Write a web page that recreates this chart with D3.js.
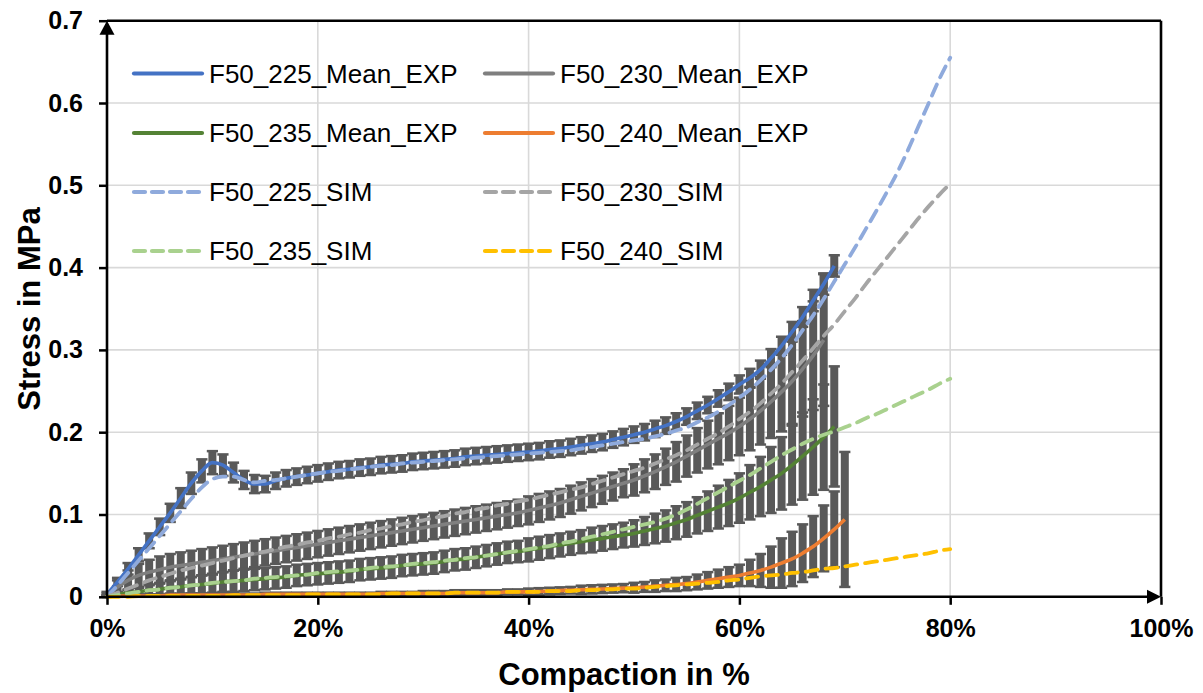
<!DOCTYPE html>
<html>
<head>
<meta charset="utf-8">
<script src="https://cdn.jsdelivr.net/npm/d3@7"></script>
<style>
  html, body { margin: 0; padding: 0; background: #fff; }
  svg { display: block; font-family: "Liberation Sans", Arial, sans-serif; }
</style>
</head>
<body>
<svg id="chart" width="1203" height="693"></svg>
<script>
// ── Data (stress in MPa, one value per 1 % compaction, index = %) ──────────
const exp225 = [0.003,0.018,0.034,0.051,0.068,0.085,0.102,0.120,0.138,0.153,
  0.163,0.160,0.151,0.142,0.137,0.137,0.141,0.144,0.146,0.148,
  0.150,0.152,0.154,0.155,0.157,0.158,0.160,0.161,0.162,0.164,
  0.165,0.166,0.167,0.168,0.170,0.171,0.172,0.173,0.174,0.175,
  0.176,0.177,0.179,0.180,0.182,0.184,0.186,0.188,0.191,0.194,
  0.197,0.200,0.204,0.208,0.213,0.219,0.226,0.233,0.241,0.249,
  0.258,0.266,0.276,0.290,0.305,0.322,0.340,0.360,0.380,0.402];
const err225 = [0.003,0.005,0.007,0.008,0.009,0.010,0.011,0.012,0.013,0.014,
  0.014,0.013,0.012,0.011,0.011,0.010,0.010,0.010,0.010,0.010,
  0.010,0.010,0.010,0.010,0.010,0.010,0.010,0.010,0.010,0.010,
  0.010,0.010,0.010,0.010,0.010,0.010,0.010,0.010,0.010,0.010,
  0.010,0.010,0.010,0.010,0.010,0.010,0.010,0.010,0.010,0.010,
  0.010,0.010,0.010,0.010,0.010,0.010,0.010,0.010,0.010,0.010,
  0.011,0.011,0.011,0.011,0.011,0.012,0.012,0.013,0.013,0.013];

const exp230 = [0.002,0.012,0.020,0.026,0.030,0.033,0.036,0.038,0.040,0.042,
  0.044,0.046,0.048,0.050,0.052,0.054,0.056,0.058,0.060,0.062,
  0.064,0.066,0.068,0.070,0.072,0.074,0.076,0.078,0.080,0.082,
  0.084,0.086,0.088,0.090,0.092,0.094,0.096,0.098,0.100,0.102,
  0.105,0.108,0.111,0.114,0.118,0.122,0.126,0.130,0.134,0.138,
  0.142,0.147,0.152,0.158,0.164,0.171,0.178,0.185,0.192,0.199,
  0.207,0.216,0.226,0.237,0.249,0.262,0.277,0.293,0.312];
const err230 = [0.002,0.008,0.012,0.014,0.015,0.016,0.016,0.016,0.016,0.016,
  0.016,0.016,0.016,0.016,0.016,0.016,0.016,0.016,0.016,0.016,
  0.016,0.016,0.016,0.016,0.016,0.016,0.016,0.016,0.016,0.016,
  0.016,0.016,0.016,0.016,0.016,0.016,0.016,0.016,0.016,0.016,
  0.017,0.017,0.017,0.017,0.017,0.017,0.017,0.017,0.017,0.017,
  0.019,0.020,0.021,0.022,0.024,0.025,0.027,0.029,0.031,0.033,
  0.035,0.038,0.041,0.044,0.048,0.052,0.058,0.066,0.080];

const exp235 = [0.001,0.003,0.005,0.006,0.008,0.009,0.011,0.012,0.014,0.015,
  0.016,0.018,0.019,0.020,0.021,0.022,0.023,0.024,0.026,0.027,
  0.028,0.029,0.030,0.031,0.033,0.034,0.035,0.036,0.038,0.039,
  0.040,0.041,0.043,0.045,0.046,0.048,0.050,0.052,0.054,0.055,
  0.057,0.059,0.061,0.063,0.065,0.067,0.069,0.071,0.073,0.075,
  0.077,0.080,0.083,0.086,0.090,0.094,0.099,0.104,0.109,0.114,
  0.120,0.127,0.134,0.142,0.150,0.160,0.171,0.182,0.194,0.207];
const err235 = [0.001,0.003,0.004,0.005,0.006,0.007,0.008,0.009,0.010,0.011,
  0.011,0.012,0.013,0.013,0.013,0.013,0.013,0.013,0.013,0.013,
  0.013,0.013,0.013,0.013,0.013,0.013,0.013,0.013,0.013,0.013,
  0.013,0.013,0.013,0.013,0.013,0.013,0.013,0.013,0.013,0.013,
  0.014,0.014,0.014,0.014,0.014,0.014,0.015,0.015,0.015,0.015,
  0.016,0.017,0.018,0.019,0.020,0.021,0.022,0.024,0.026,0.028,
  0.030,0.033,0.036,0.040,0.044,0.048,0.053,0.058,0.064,0.073];

const exp240 = [0.000,0.001,0.001,0.001,0.001,0.001,0.002,0.002,0.002,0.002,
  0.002,0.002,0.002,0.002,0.002,0.003,0.003,0.003,0.003,0.003,
  0.003,0.003,0.003,0.003,0.003,0.003,0.004,0.004,0.004,0.004,
  0.004,0.004,0.004,0.005,0.005,0.005,0.005,0.005,0.006,0.006,
  0.006,0.0065,0.007,0.0075,0.008,0.0085,0.009,0.0095,0.010,0.0105,
  0.011,0.012,0.013,0.014,0.015,0.016,0.018,0.020,0.022,0.024,
  0.026,0.029,0.032,0.036,0.041,0.046,0.053,0.061,0.071,0.082,0.094];
const err240 = [0.002,0.002,0.002,0.002,0.002,0.002,0.002,0.002,0.002,0.002,
  0.002,0.002,0.002,0.002,0.002,0.002,0.002,0.002,0.002,0.002,
  0.002,0.002,0.002,0.002,0.002,0.002,0.002,0.002,0.002,0.002,
  0.003,0.003,0.003,0.003,0.003,0.003,0.003,0.003,0.003,0.003,
  0.004,0.004,0.004,0.004,0.004,0.005,0.005,0.005,0.005,0.005,
  0.006,0.006,0.007,0.007,0.008,0.008,0.009,0.010,0.011,0.012,
  0.013,0.016,0.020,0.025,0.030,0.033,0.035,0.037,0.040,0.046,0.082];

const sim225 = [0.000,0.014,0.029,0.044,0.059,0.074,0.089,0.104,0.119,0.133,
  0.143,0.146,0.146,0.142,0.139,0.141,0.142,0.144,0.146,0.148,
  0.150,0.152,0.153,0.155,0.156,0.158,0.159,0.160,0.162,0.163,
  0.164,0.165,0.166,0.167,0.168,0.169,0.170,0.171,0.172,0.173,
  0.174,0.175,0.176,0.177,0.178,0.180,0.182,0.184,0.186,0.188,
  0.190,0.192,0.195,0.198,0.202,0.206,0.212,0.218,0.225,0.233,
  0.242,0.252,0.263,0.276,0.290,0.306,0.324,0.342,0.362,0.383,
  0.404,0.425,0.447,0.469,0.492,0.516,0.543,0.572,0.601,0.630,0.655];
const sim230 = [0.000,0.005,0.010,0.015,0.020,0.024,0.028,0.032,0.035,0.038,
  0.041,0.044,0.047,0.050,0.053,0.055,0.058,0.061,0.063,0.066,
  0.068,0.071,0.073,0.076,0.078,0.081,0.083,0.086,0.088,0.091,
  0.093,0.096,0.098,0.101,0.103,0.106,0.108,0.111,0.113,0.116,
  0.118,0.121,0.124,0.127,0.130,0.133,0.137,0.141,0.145,0.149,
  0.153,0.157,0.162,0.167,0.172,0.178,0.185,0.192,0.199,0.207,
  0.216,0.225,0.235,0.247,0.259,0.273,0.287,0.302,0.317,0.331,
  0.347,0.363,0.380,0.396,0.412,0.428,0.444,0.460,0.475,0.489,0.502];
const sim235 = [0.000,0.002,0.004,0.006,0.008,0.009,0.011,0.012,0.014,0.015,
  0.017,0.018,0.019,0.020,0.022,0.023,0.024,0.025,0.026,0.027,
  0.029,0.030,0.031,0.032,0.033,0.035,0.036,0.037,0.038,0.040,
  0.041,0.042,0.044,0.045,0.047,0.048,0.050,0.052,0.054,0.056,
  0.058,0.060,0.062,0.065,0.067,0.070,0.073,0.076,0.079,0.082,
  0.085,0.088,0.091,0.095,0.100,0.106,0.113,0.120,0.127,0.134,
  0.141,0.148,0.156,0.164,0.172,0.179,0.186,0.192,0.197,0.201,
  0.206,0.211,0.217,0.222,0.228,0.234,0.240,0.246,0.252,0.259,0.265];
const sim240 = [0.000,0.000,0.000,0.001,0.001,0.001,0.001,0.001,0.001,0.001,
  0.001,0.001,0.002,0.002,0.002,0.002,0.002,0.002,0.002,0.003,
  0.003,0.003,0.003,0.003,0.003,0.003,0.003,0.004,0.004,0.004,
  0.004,0.004,0.004,0.005,0.005,0.005,0.005,0.005,0.006,0.006,
  0.006,0.006,0.007,0.007,0.007,0.008,0.008,0.009,0.009,0.010,
  0.010,0.011,0.012,0.013,0.014,0.015,0.016,0.017,0.018,0.020,
  0.021,0.023,0.025,0.026,0.027,0.029,0.030,0.032,0.034,0.035,
  0.037,0.039,0.041,0.043,0.045,0.047,0.049,0.051,0.053,0.056,0.058];

const xTicks = [0, 20, 40, 60, 80, 100];
const yTicks = [0, 0.1, 0.2, 0.3, 0.4, 0.5, 0.6, 0.7];

const expSeries = [
  { name: 'F50_225_Mean_EXP', values: exp225, err: err225, color: '#4472C4' },
  { name: 'F50_230_Mean_EXP', values: exp230, err: err230, color: '#7F7F7F' },
  { name: 'F50_235_Mean_EXP', values: exp235, err: err235, color: '#548235' },
  { name: 'F50_240_Mean_EXP', values: exp240, err: err240, color: '#ED7D31' }
];
const simSeries = [
  { name: 'F50_225_SIM', values: sim225, color: '#8FAADC' },
  { name: 'F50_230_SIM', values: sim230, color: '#A5A5A5' },
  { name: 'F50_235_SIM', values: sim235, color: '#A9D18E' },
  { name: 'F50_240_SIM', values: sim240, color: '#FFC000' }
];

// ── Layout ─────────────────────────────────────────────────────────────────
const plotL = 107, plotR = 1161, plotT = 20.7, plotB = 596.8;
const DASH = '12,8';

const svg = d3.select('#chart');
const x = d3.scaleLinear().domain([0, 100]).range([plotL, plotR]);
const y = d3.scaleLinear().domain([0, 0.7]).range([plotB, plotT]);

// ── Grid ───────────────────────────────────────────────────────────────────
const grid = svg.append('g').attr('stroke', '#D9D9D9').attr('stroke-width', 1.6);
grid.selectAll('.gx').data(xTicks.slice(1)).enter().append('line')
  .attr('x1', d => x(d)).attr('x2', d => x(d)).attr('y1', plotT).attr('y2', plotB);
grid.selectAll('.gy').data(yTicks.slice(1)).enter().append('line')
  .attr('x1', plotL).attr('x2', plotR).attr('y1', d => y(d)).attr('y2', d => y(d));

// ── Error bars (thick stems so the bands read dark like the original) ─────
const CAP = 5.6;
const errG = svg.append('g').attr('stroke', '#595959');
expSeries.forEach(s => {
  const g = errG.append('g');
  s.values.forEach((v, i) => {
    const e = s.err[i];
    const cx = x(i), y1 = y(v + e), y2 = y(Math.max(0, v - e));
    g.append('line').attr('x1', cx).attr('x2', cx).attr('y1', y1).attr('y2', y2)
      .attr('stroke-width', 8);
    g.append('line').attr('x1', cx - CAP).attr('x2', cx + CAP).attr('y1', y1).attr('y2', y1)
      .attr('stroke-width', 2.5);
    g.append('line').attr('x1', cx - CAP).attr('x2', cx + CAP).attr('y1', y2).attr('y2', y2)
      .attr('stroke-width', 2.5);
  });
});

// ── Lines ──────────────────────────────────────────────────────────────────
const line = d3.line()
  .x((d, i) => x(i))
  .y(d => y(d))
  .curve(d3.curveMonotoneX);

svg.append('g').selectAll('path').data(expSeries).enter().append('path')
  .attr('d', d => line(d.values))
  .attr('fill', 'none')
  .attr('stroke', d => d.color)
  .attr('stroke-width', 3.6)
  .attr('stroke-linejoin', 'round');

svg.append('g').selectAll('path').data(simSeries).enter().append('path')
  .attr('d', d => line(d.values))
  .attr('fill', 'none')
  .attr('stroke', d => d.color)
  .attr('stroke-width', 3.8)
  .attr('stroke-linecap', 'round')
  .attr('stroke-dasharray', DASH);

// ── Axes ───────────────────────────────────────────────────────────────────
const xAxis = svg.append('g')
  .attr('transform', `translate(0,${plotB})`)
  .call(d3.axisBottom(x).tickValues(xTicks).tickFormat(d => d + '%').tickSize(8).tickPadding(14));
const yAxis = svg.append('g')
  .attr('transform', `translate(${plotL},0)`)
  .call(d3.axisLeft(y).tickValues(yTicks).tickFormat(d => d === 0 ? '0' : d.toFixed(1)).tickSize(8).tickPadding(16));

[xAxis, yAxis].forEach(a => {
  a.select('.domain').remove();
  a.selectAll('.tick line').attr('stroke', '#000').attr('stroke-width', 2.5);
  a.selectAll('.tick text')
    .attr('fill', '#000')
    .style('font-family', '"Liberation Sans", Arial, sans-serif')
    .style('font-size', '25px')
    .style('font-weight', 'bold');
});

// frame + arrowed axes
const frame = svg.append('g').attr('stroke', '#000').attr('stroke-width', 2.6).attr('fill', 'none');
frame.append('line').attr('x1', plotL).attr('x2', plotR).attr('y1', plotT).attr('y2', plotT);
frame.append('line').attr('x1', plotR).attr('x2', plotR).attr('y1', plotT).attr('y2', plotB);
frame.append('line').attr('x1', plotL).attr('x2', plotR - 10).attr('y1', plotB).attr('y2', plotB);
frame.append('line').attr('x1', plotL).attr('x2', plotL).attr('y1', plotB).attr('y2', plotT + 10);
svg.append('path')
  .attr('d', `M${plotL},${plotT}L${plotL - 7.5},${plotT + 14}L${plotL + 7.5},${plotT + 14}Z`)
  .attr('fill', '#000');
svg.append('path')
  .attr('d', `M${plotR},${plotB}L${plotR - 14},${plotB - 7}L${plotR - 14},${plotB + 7}Z`)
  .attr('fill', '#000');

// ── Axis titles ────────────────────────────────────────────────────────────
svg.append('text')
  .attr('x', 624).attr('y', 685)
  .attr('text-anchor', 'middle')
  .style('font-size', '31px').style('font-weight', 'bold')
  .text('Compaction in %');
svg.append('text')
  .attr('transform', 'translate(40,309) rotate(-90)')
  .attr('text-anchor', 'middle')
  .style('font-size', '31px').style('font-weight', 'bold')
  .text('Stress in MPa');

// ── Legend (two columns, row by row) ───────────────────────────────────────
const legendItems = [
  expSeries[0], expSeries[1], expSeries[2], expSeries[3],
  simSeries[0], simSeries[1], simSeries[2], simSeries[3]
].map((s, i) => ({ s, dashed: i >= 4, col: i % 2, row: Math.floor(i / 2) }));

const colX = [133, 484];
const rowY = [73.5, 133, 192, 251];

const leg = svg.append('g').selectAll('g').data(legendItems).enter().append('g')
  .attr('transform', d => `translate(${colX[d.col]},${rowY[d.row]})`);
leg.append('line')
  .attr('x1', 1).attr('x2', 69).attr('y1', 0).attr('y2', 0)
  .attr('stroke', d => d.s.color)
  .attr('stroke-width', 4.2)
  .attr('stroke-linecap', 'round')
  .attr('stroke-dasharray', d => d.dashed ? '11,7' : null);
leg.append('text')
  .attr('x', 76).attr('y', 0).attr('dy', '0.36em')
  .style('font-size', '26px')
  .attr('fill', '#000')
  .text(d => d.s.name);
</script>
</body>
</html>
